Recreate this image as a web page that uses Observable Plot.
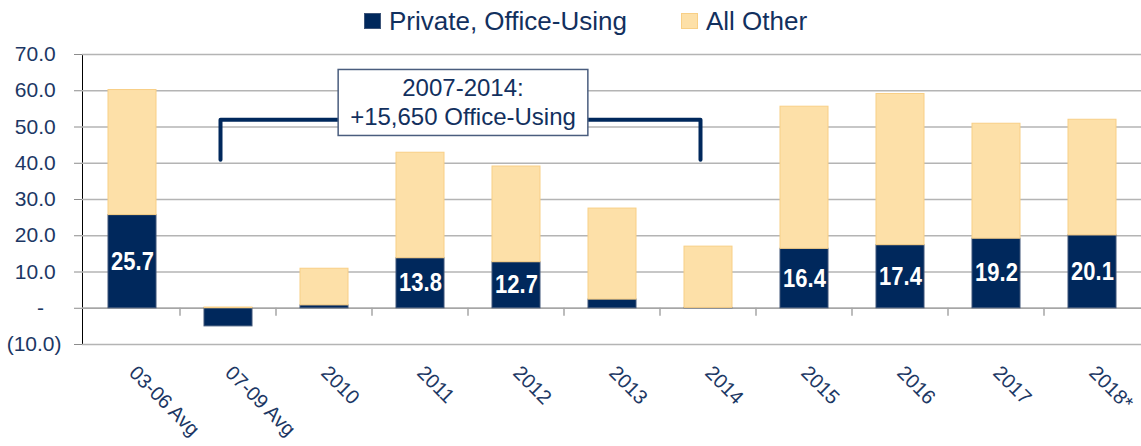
<!DOCTYPE html>
<html><head><meta charset="utf-8">
<script src="https://cdn.jsdelivr.net/npm/d3@7"></script>
<script src="https://cdn.jsdelivr.net/npm/@observablehq/plot@0.6"></script>
<style>
html,body{margin:0;padding:0;background:#fff;}
body{width:1141px;height:446px;overflow:hidden;font-family:"Liberation Sans",Arial,sans-serif;}
#legend{height:44px;position:relative;}
.item{position:absolute;top:0;height:42px;display:flex;align-items:center;font-size:26px;color:#12305e;white-space:nowrap;}
.sw{width:17px;height:16px;margin-right:8px;box-sizing:border-box;}
g[aria-label^="y-axis"]{color:#8c8c8c;}
g[aria-label^="y-axis"] text{fill:#1c3764;font-size:21px;}
g[aria-label^="y-axis"] path, g[aria-label^="y-axis"] line{stroke:#8c8c8c;}
g[aria-label^="x-axis"] text{fill:#1c3764;font-size:20px;}
</style></head><body>
<div id="legend"></div>
<div id="chart"></div>
<script>
const categories = ["03-06 Avg", "07-09 Avg", "2010", "2011", "2012", "2013", "2014", "2015", "2016", "2017", "2018*"];
const officeUsing = [25.7, -5.0, 0.8, 13.8, 12.7, 2.4, 0.1, 16.4, 17.4, 19.2, 20.1];
const allOther = [34.5, 0.2, 10.1, 29.1, 26.4, 25.1, 16.9, 39.2, 41.7, 31.7, 31.9];
const seriesNames = ["Private, Office-Using", "All Other"];
const seriesColors = ["#00285c", "#fde0a8"];
const seriesStrokes = ["#3e5579", "#f8cf86"];
const yTicks = [-10, 0, 10, 20, 30, 40, 50, 60, 70];
const bracketFrom = "07-09 Avg";
const bracketTo = "2014";
const bracketTop = 52;
const bracketBottom = 41;
const annotationLines = ["2007-2014:", "+15,650 Office-Using"];
const annotationLineY = [60.6, 52.6];

// legend
const legend = document.getElementById("legend");
const legendLeft = [364, 681];
seriesNames.forEach((name, i) => {
  const it = document.createElement("div");
  it.className = "item";
  it.style.left = legendLeft[i] + "px";
  const sw = document.createElement("div");
  sw.className = "sw";
  sw.style.background = seriesColors[i];
  sw.style.border = "1px solid " + seriesStrokes[i];
  it.appendChild(sw);
  it.appendChild(document.createTextNode(name));
  legend.appendChild(it);
});

const rows = [];
categories.forEach((c, i) => {
  rows.push({cat: c, series: 0, value: officeUsing[i]});
  rows.push({cat: c, series: 1, value: allOther[i]});
});
const labelRows = categories.map((c, i) => ({cat: c, value: officeUsing[i]})).filter(d => d.value >= 10);
const bracketPts = [
  {cat: bracketFrom, y: bracketBottom},
  {cat: bracketFrom, y: bracketTop},
  {cat: bracketTo, y: bracketTop},
  {cat: bracketTo, y: bracketBottom}
];
const navy = "#00285c";
const bracketDx = -8;

const fmt = d => d === 0 ? "-\u00a0\u00a0\u00a0" : d < 0 ? `(${(-d).toFixed(1)})` : `${d.toFixed(1)}\u00a0`;

function boundaryTicks(index, scales) {
  const x = scales.x, y = scales.y;
  const step = x.step(), bw = x.bandwidth();
  const g = d3.create("svg:g").attr("stroke", "#a6a6a6").attr("stroke-width", 1.5);
  categories.slice(1).forEach(c => {
    const px = x(c) - (step - bw) / 2;
    g.append("line").attr("x1", px).attr("x2", px).attr("y1", y(0)).attr("y2", y(0) + 8);
  });
  return g.node();
}

function annotation(index, scales) {
  const x = scales.x, y = scales.y;
  const bw = x.bandwidth ? x.bandwidth() : 0;
  const cx = (x(bracketFrom) + x(bracketTo)) / 2 + bw / 2 + bracketDx + 3;
  const g = d3.create("svg:g").attr("class", "anno");
  g.append("rect").attr("class", "anno-box").attr("fill", "white").attr("stroke", "#4a5d7e").attr("stroke-width", 1.5);
  const t = g.append("text").attr("class", "anno-text").attr("text-anchor", "middle")
    .attr("font-size", 24).attr("fill", "#12305e").attr("font-family", "Liberation Sans, Arial, sans-serif");
  annotationLines.forEach((s, i) => t.append("tspan").attr("x", cx).attr("y", y(annotationLineY[i])).attr("dy", "0.35em").text(s));
  return g.node();
}

const chart = Plot.plot({
  width: 1141, height: 402,
  marginTop: 10, marginRight: 0, marginBottom: 102, marginLeft: 82,
  style: {background: "#fff", fontFamily: "Liberation Sans, Arial, sans-serif", overflow: "visible"},
  x: {type: "band", domain: categories, paddingInner: 0.5, paddingOuter: 0.25, label: null, tickSize: 0, tickPadding: 25, tickRotate: 45},
  y: {domain: [-10, 70], ticks: yTicks, tickFormat: fmt, tickSize: 8, tickPadding: 13, label: null, line: true},
  color: {type: "identity"},
  marks: [
    Plot.ruleY(yTicks, {stroke: "#b4b4b4", strokeWidth: 1.5}),
    Plot.ruleY([0], {stroke: "#a6a6a6", strokeWidth: 1.5}),
    boundaryTicks,
    Plot.barY(rows, {x: "cat", y: "value", fill: d => seriesColors[d.series], stroke: d => seriesStrokes[d.series], strokeWidth: 1}),
    Plot.text(labelRows, {x: "cat", y: d => d.value / 2, text: d => d.value.toFixed(1), fill: "white", fontWeight: "bold", fontSize: 25, fontFamily: "Liberation Sans, Arial, sans-serif"}),
    Plot.line(bracketPts, {x: "cat", y: "y", dx: bracketDx, stroke: navy, strokeWidth: 4, curve: "linear"}),
    annotation
  ]
});
document.getElementById("chart").appendChild(chart);

// condense bar labels (narrow bold look)
chart.querySelectorAll('g[aria-label="text"] text').forEach(t => {
  const w = t.getComputedTextLength();
  t.setAttribute("textLength", (w * 0.88).toFixed(1));
  t.setAttribute("lengthAdjust", "spacingAndGlyphs");
});

// fit annotation box to its text
const at = chart.querySelector(".anno-text");
if (at) {
  const bb = at.getBBox();
  const r = chart.querySelector(".anno-box");
  r.setAttribute("x", bb.x - 12);
  r.setAttribute("y", bb.y - 5);
  r.setAttribute("width", bb.width + 24);
  r.setAttribute("height", bb.height + 10);
}
</script>
</body></html>
